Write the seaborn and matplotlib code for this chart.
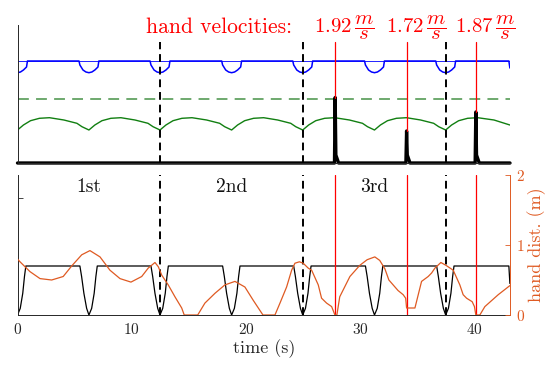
import numpy as np
import pandas as pd
import seaborn as sns
import matplotlib.pyplot as plt

# --- values ---
T_END = 43.1
dip_t = [0.0, 6.25, 12.47, 18.74, 24.96, 31.24, 37.47]      # gait dips (s)
cut_t = [12.47, 24.96, 37.47]                                # black dashed separators
hit_t = [27.8, 34.05, 40.11]                                 # red hand-velocity events
hit_h = [0.655, 0.32, 0.51]                                  # spike heights (top panel units)
hit_lbl = ["1.92", "1.72", "1.87"]
phase_t = [6.25, 18.74, 31.24]
phase_lbl = ["1st", "2nd", "3rd"]

# blue trace: plateau + U-shaped dip profile around each dip
blue_plateau = 1.02
blue_off = [-0.87, -0.79, -0.52, -0.26, 0.0, 0.26, 0.52, 0.79, 0.87]
blue_val = [1.02, 0.98, 0.93, 0.91, 0.903, 0.91, 0.93, 0.96, 1.02]
blue_end = [(43.0, 1.02), (43.09, 0.95)]

# green trace
green_off = [-2.19, -1.05, -0.61, 0.0, 0.52, 1.14, 1.92, 2.80]
green_val = [0.43, 0.397, 0.363, 0.33, 0.38, 0.423, 0.447, 0.453]
green_end = [(41.7, 0.43), (43.09, 0.38)]
green_ref = 0.64

# black trace (bottom panel)
walk_off = [-0.79, -0.64, -0.44, -0.2, 0.0, 0.24, 0.46, 0.61, 0.73]
walk_val = [0.42, 0.33, 0.186, 0.057, 0.0, 0.057, 0.186, 0.33, 0.42]
walk_end = [(43.0, 0.42), (43.09, 0.27)]

# hand distance (m), orange
hand_t = [0.0, 0.22, 1.09, 1.97, 2.99, 4.0, 4.74, 5.62, 6.34, 7.22, 8.09, 8.97, 9.93,
          10.87, 11.44, 12.03, 12.32, 12.62, 13.19, 13.78, 14.37, 14.59, 15.77, 16.4,
          17.28, 18.15, 19.03, 19.9, 20.63, 21.48, 22.53, 22.97, 23.55, 23.99, 24.28,
          24.67, 25.0, 25.44, 25.74, 26.32, 26.61, 27.05, 27.49, 27.78, 27.95, 28.2,
          29.09, 29.96, 30.6, 31.27, 31.7, 32.15, 32.5, 33.3, 33.75, 33.97, 34.05, 34.78,
          35.36, 35.94, 36.24, 36.53, 37.05, 37.49, 38.13, 38.71, 39.0, 39.3, 39.79,
          39.99, 40.11, 40.46, 40.9, 42.07, 43.09]
hand_d = [0.80, 0.76, 0.62, 0.52, 0.50, 0.55, 0.70, 0.86, 0.92, 0.83, 0.64, 0.52, 0.47,
          0.55, 0.67, 0.75, 0.69, 0.57, 0.43, 0.26, 0.10, 0.0, 0.0, 0.17,
          0.31, 0.43, 0.48, 0.40, 0.21, 0.0, 0.0, 0.17, 0.40, 0.64, 0.74,
          0.76, 0.74, 0.67, 0.64, 0.43, 0.24, 0.17, 0.12, 0.0, 0.0, 0.26,
          0.55, 0.71, 0.79, 0.83, 0.78, 0.66, 0.50, 0.35, 0.29, 0.24, 0.10, 0.10,
          0.48, 0.55, 0.60, 0.67, 0.75, 0.71, 0.64, 0.43, 0.29, 0.24, 0.19,
          0.12, 0.0, 0.0, 0.12, 0.29, 0.42]

ORANGE = "#DF5A22"
GREEN = "#117F11"
GREEN_L = "#62A262"
AXC = "#262626"


def periodic(offs, vals, ends):
    # dip profile repeated at every dip time
    pts = []
    for c in dip_t:
        for o, v in zip(offs, vals):
            if 0 <= c + o <= T_END:
                pts.append((c + o, v))
    pts += ends
    pts.sort()
    return pd.DataFrame(pts, columns=["t", "v"])


def spikes():
    pts = [(0.0, 0.0)]
    for t, h in zip(hit_t, hit_h):
        pts += [(t - 0.06, 0.0), (t, h), (t + 0.06, 0.08), (t + 0.15, 0.05), (t + 0.3, 0.0)]
    pts.append((T_END, 0.0))
    return pd.DataFrame(pts, columns=["t", "v"])


sns.set_style("white")
plt.rcParams["font.family"] = ["cmr10", "DejaVu Serif"]
plt.rcParams["mathtext.fontset"] = "cm"
plt.rcParams["axes.formatter.use_mathtext"] = True

W, H = 549, 365
fig = plt.figure(figsize=(W / 100, H / 100), dpi=100)
x0, x1 = 17.5, 510
ax_top = fig.add_axes([x0 / W, 1 - 163 / H, (x1 - x0) / W, (163 - 25) / H])
ax_bot = fig.add_axes([x0 / W, 1 - 315 / H, (x1 - x0) / W, (315 - 175) / H])
ax_r = ax_bot.twinx()

# ---- top panel ----
blue = periodic(blue_off, blue_val, blue_end)
green = periodic(green_off, green_val, green_end)
spk = spikes()
ax_top.axhline(blue_plateau, color="blue", lw=0.6)
sns.lineplot(data=blue, x="t", y="v", ax=ax_top, color="blue", lw=1.1, estimator=None, sort=False)
ax_top.axhline(green_ref, color=GREEN_L, lw=1.3, dashes=(6, 4))
sns.lineplot(data=green, x="t", y="v", ax=ax_top, color=GREEN, lw=1.0, estimator=None, sort=False)
sns.lineplot(data=spk, x="t", y="v", ax=ax_top, color="black", lw=2.4, estimator=None,
             sort=False, clip_on=False)
for t in cut_t:
    ax_top.plot([t, t], [0, 1.21], color="black", lw=1.4, dashes=(4, 2.5), zorder=5)
for t, h, s in zip(hit_t, hit_h, hit_lbl):
    ax_top.plot([t, t], [h, 1.21], color="red", lw=0.9)
    ax_top.text(t + 0.8, 1.30, rf"${s}\,\dfrac{{m}}{{s}}$", color="red", fontsize=15,
                ha="center", va="baseline")
ax_top.text(24.0, 1.30, "hand velocities:", color="red", fontsize=15.5, ha="right", va="baseline")

ax_top.set_xlim(0, T_END)
ax_top.set_ylim(0, 1.38)
ax_top.set_xticks(np.arange(0, 45, 5))
ax_top.set_xticklabels([])
ax_top.set_yticks([])
ax_top.tick_params(axis="x", direction="in", length=3.5, width=0.6, color=AXC)
for s in ["top", "right"]:
    ax_top.spines[s].set_visible(False)
ax_top.spines["left"].set_color(AXC)
ax_top.spines["bottom"].set_color(AXC)
ax_top.spines["left"].set_linewidth(0.7)
ax_top.set_xlabel("")
ax_top.set_ylabel("")

# ---- bottom panel ----
walk = periodic(walk_off, walk_val, walk_end)
hand = pd.DataFrame({"t": hand_t, "d": hand_d})
sns.lineplot(data=walk, x="t", y="v", ax=ax_bot, color="black", lw=0.9, estimator=None, sort=False)
sns.lineplot(data=hand, x="t", y="d", ax=ax_r, color=ORANGE, lw=0.9, estimator=None, sort=False)
for t in cut_t:
    ax_bot.axvline(t, color="black", lw=1.4, dashes=(4, 2.5), zorder=5)
for t in hit_t:
    ax_bot.axvline(t, color="red", lw=0.9)
for t, s in zip(phase_t, phase_lbl):
    ax_bot.text(t, 1.097, s, fontsize=14, ha="center", va="center", color="#111111")

ax_bot.set_xlim(0, T_END)
ax_bot.set_ylim(0, 1.2)
ax_bot.set_xticks([0, 10, 20, 30, 40])
ax_bot.set_yticks([1])
ax_bot.set_yticklabels([])
ax_bot.tick_params(direction="in", length=3.5, width=0.6, color=AXC, labelsize=11, pad=5)
ax_bot.set_xlabel("time (s)", fontsize=13, labelpad=2)
ax_bot.set_ylabel("")
ax_bot.spines["top"].set_visible(False)
ax_bot.spines["right"].set_visible(False)
for s in ["left", "bottom"]:
    ax_bot.spines[s].set_color(AXC)
    ax_bot.spines[s].set_linewidth(0.7)

ax_r.set_ylim(0, 2)
ax_r.set_yticks([0, 1, 2])
ax_r.tick_params(direction="in", length=3.5, width=0.6, colors=ORANGE, labelsize=11, pad=4)
ax_r.set_ylabel("hand dist. (m)", color=ORANGE, fontsize=13, labelpad=2)
ax_r.set_xlabel("")
for s in ["top", "left", "bottom"]:
    ax_r.spines[s].set_visible(False)
ax_r.spines["right"].set_color(ORANGE)
ax_r.spines["right"].set_linewidth(0.7)

fig.savefig("out.png", dpi=100)
